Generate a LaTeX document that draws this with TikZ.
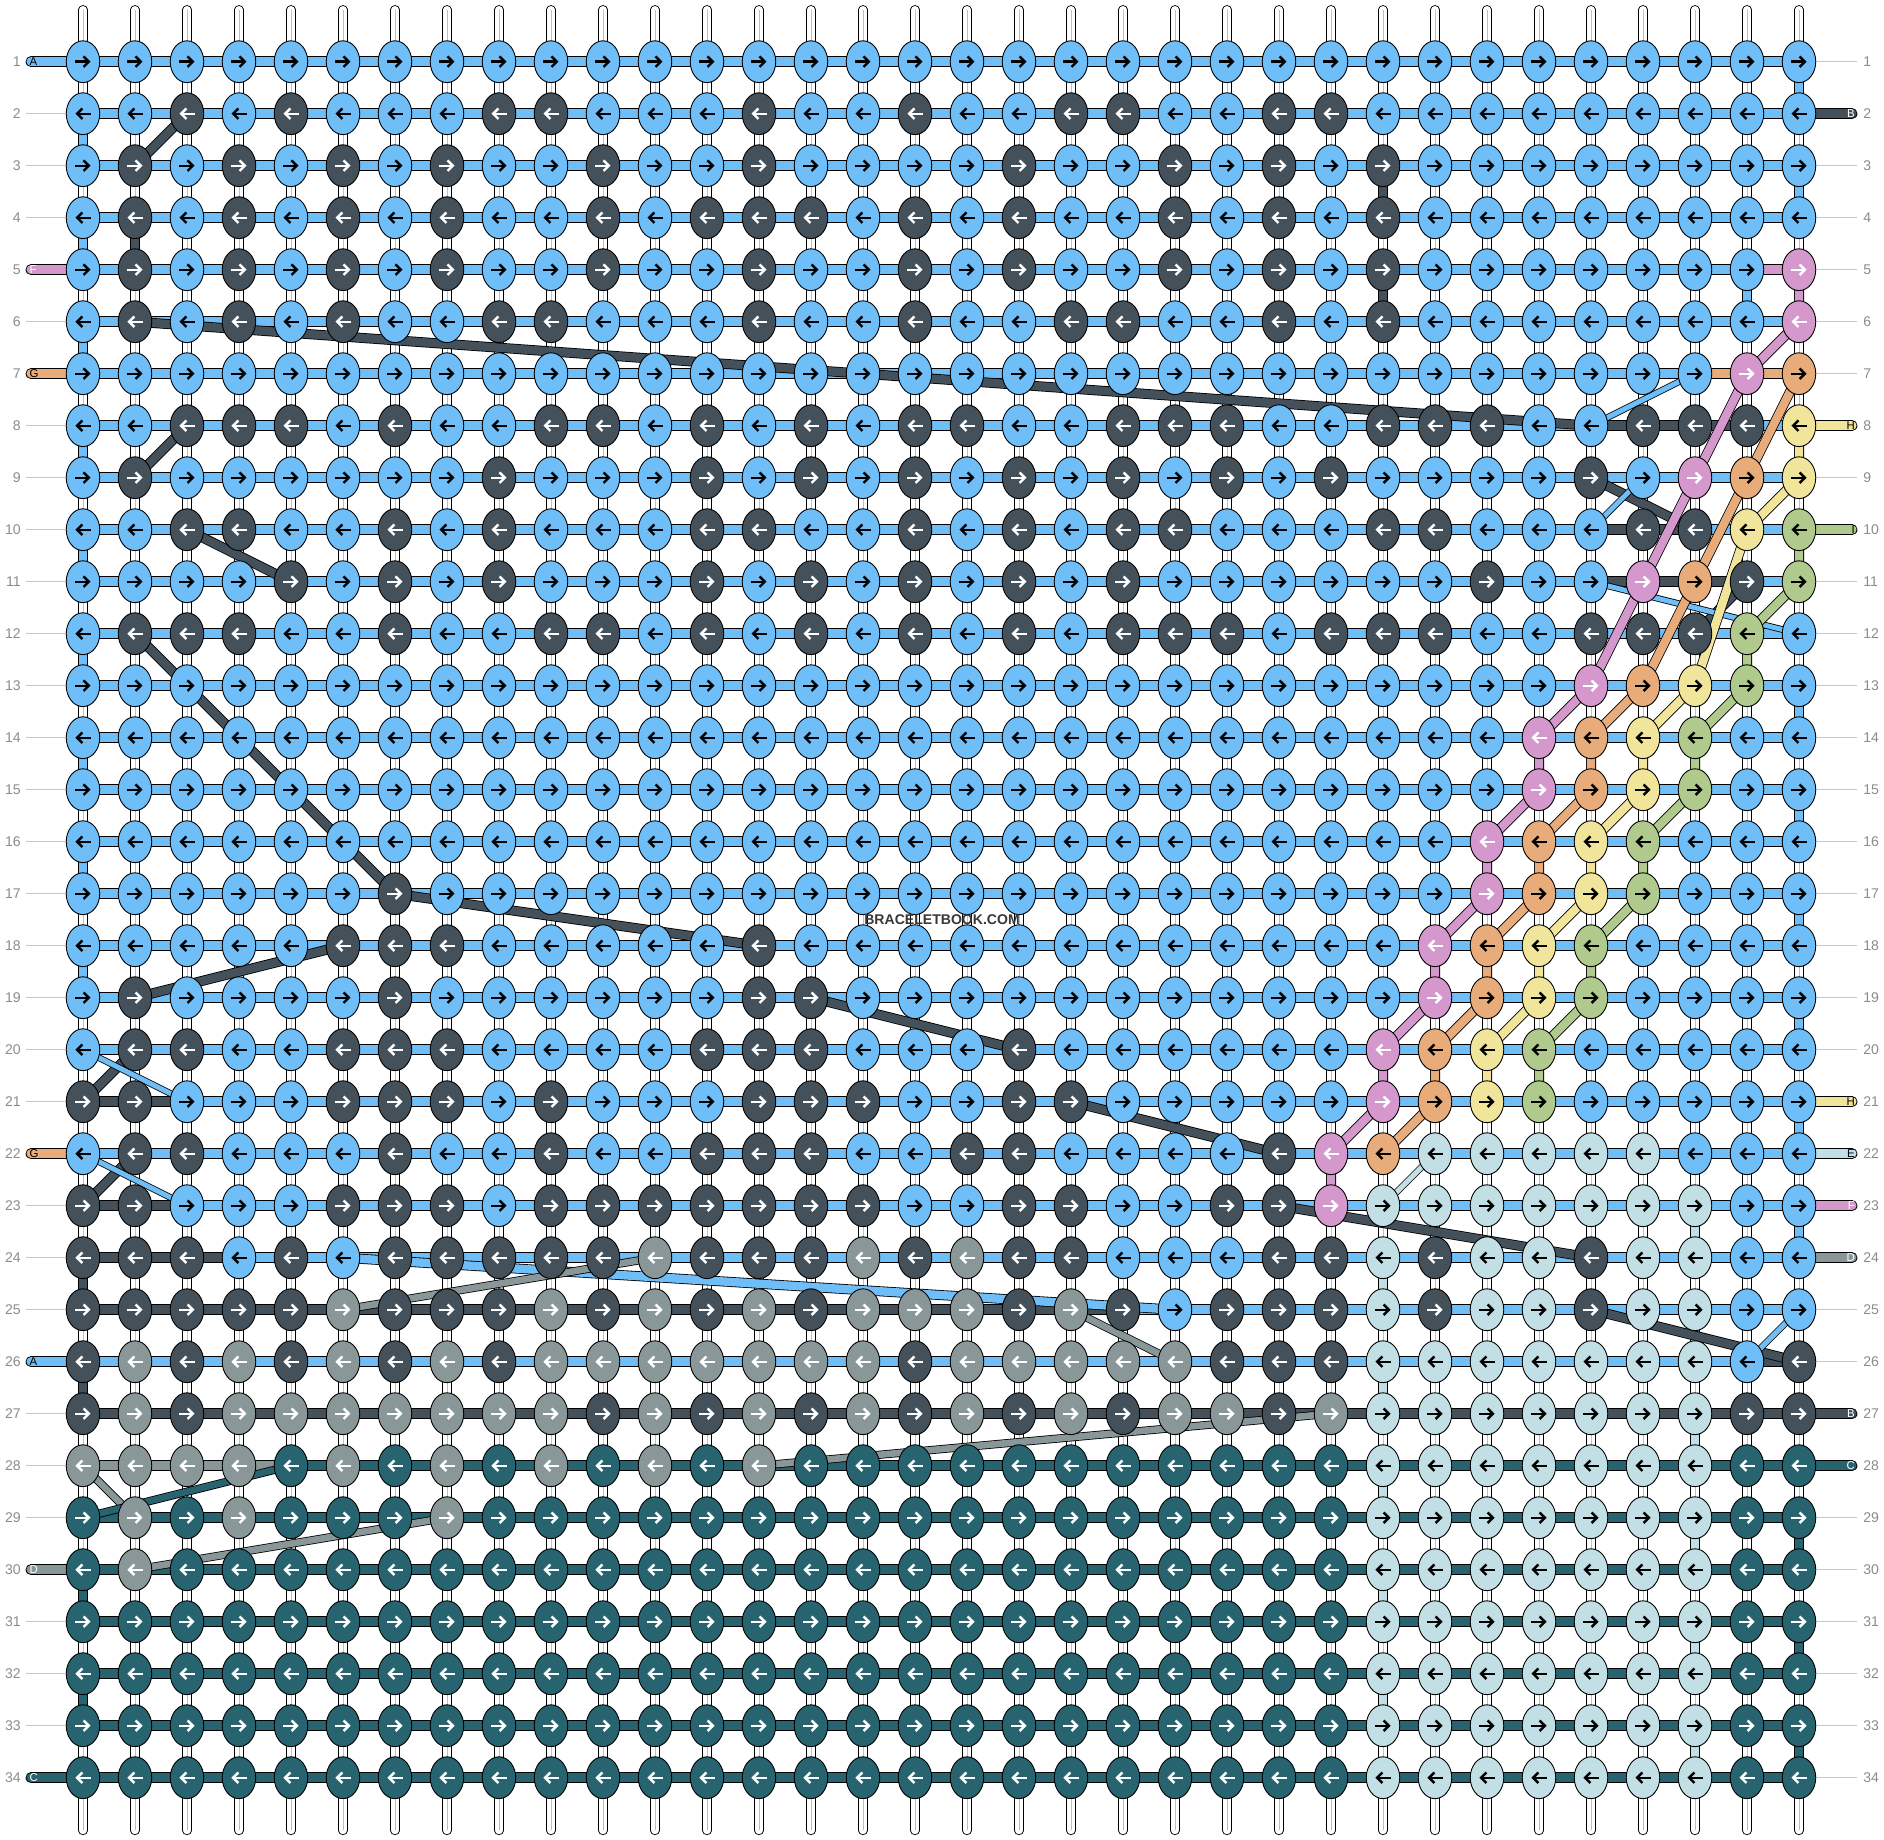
\documentclass[tikz,border=0pt]{standalone}
\usepackage{fontspec}
\setmainfont{Liberation Sans}
\usetikzlibrary{shapes.geometric,arrows.meta}
\pgfdeclarelayer{back}
\pgfdeclarelayer{mid}
\pgfsetlayers{back,mid,main}

\definecolor{colA}{HTML}{6FBEF8}
\definecolor{colB}{HTML}{44515B}
\definecolor{colC}{HTML}{28646F}
\definecolor{colD}{HTML}{8A9799}
\definecolor{colE}{HTML}{C2DFE5}
\definecolor{colF}{HTML}{D598CC}
\definecolor{colG}{HTML}{E8AC7B}
\definecolor{colH}{HTML}{F1E59B}
\definecolor{colI}{HTML}{AFCA8C}

\newdimen\pxu \pxu=0.02cm
\newcount\knotcol

\tikzset{
  knot/.style={ellipse, draw=black, line width=0.9\pxu, minimum width=33.5\pxu, minimum height=41.8\pxu, inner sep=0pt},
  knotA/.style={fill=colA}, knotB/.style={fill=colB}, knotC/.style={fill=colC},
  knotD/.style={fill=colD}, knotE/.style={fill=colE}, knotF/.style={fill=colF},
  knotG/.style={fill=colG}, knotH/.style={fill=colH}, knotI/.style={fill=colI},
  tipA/.style={black}, tipB/.style={white}, tipC/.style={white},
  tipD/.style={white}, tipE/.style={black}, tipF/.style={white},
  tipG/.style={black}, tipH/.style={black}, tipI/.style={black},
  arrR/.style={line width=2.4\pxu, -{Straight Barb[length=3pt,width=6pt]}},
  arrL/.style={line width=2.4\pxu, {Straight Barb[length=3pt,width=6pt]}-},
  band/.style={draw=black, line width=1\pxu, double=col#1, double distance=8.5\pxu},
  thr/.style n args={2}{draw=black, line width=0.8\pxu, double=col#1, double distance=#2\pxu, line join=round},
  warp/.style={draw=black, line width=0.9\pxu, double=white, double distance=7.4\pxu, line cap=round},
  warpmid/.style={draw=black!25, line width=0.6\pxu},
  guide/.style={draw=black!22, line width=1\pxu},
  pill/.style={draw=black, line width=0.9\pxu, double=col#1, double distance=9\pxu, line cap=round},
  rownum/.style={text=black!45, font=\fontsize{8}{9}\selectfont, inner sep=0pt},
  labtxt/.style={font=\fontsize{6.5}{7}\selectfont, inner sep=0pt},
  labA/.style={text=black}, labB/.style={text=white}, labC/.style={text=white},
  labD/.style={text=white}, labE/.style={text=black}, labF/.style={text=white},
  labG/.style={text=black}, labH/.style={text=black}, labI/.style={text=black},
}

\newcommand\knotput[1]{%
  \node[knot, knot#1] (k-\krow-\the\knotcol) at (\the\knotcol,\krow) {};
  \ifodd\krow\relax
    \draw[arrR, tip#1] (\the\knotcol-0.145,\krow) -- (\the\knotcol+0.145,\krow);
  \else
    \draw[arrL, tip#1] (\the\knotcol-0.145,\krow) -- (\the\knotcol+0.145,\krow);
  \fi}
\def\knotscan#1{%
  \ifx\relax#1\else
    \advance\knotcol by 1
    \knotput{#1}%
    \expandafter\knotscan
  \fi}

\begin{document}
\begin{tikzpicture}[x=1.04cm, y=-1.04cm]
\useasboundingbox (-0.596,-0.1865) rectangle (35.635,35.198);

\foreach \pat [count=\krow] in {
  AAAAA AAAAA AAAAA AAAAA AAAAA AAAAA AAAA,
  AABAB AAABB AAABA ABAAB BAABB AAAAA AAAA,
  ABABA BABAA BAABA AAABA ABABA BAAAA AAAA,
  ABABA BABAA BABBB ABABA ABABA BAAAA AAAA,
  ABABA BABAA BAABA ABABA ABABA BAAAA AAAF,
  ABABA BAABB AAABA ABAAB BAABA BAAAA AAAF,
  AAAAA AAAAA AAAAA AAAAA AAAAA AAAAA AAFG,
  AABBB ABAAB BABAB ABBAA BBBAA BBBAA BBBH,
  ABAAA AAABA AABAB ABABA BABAB AAAAB AFGH,
  AABBA ABABA AABBA ABABA BBAAA BBAAA BBHI,
  AAAAB ABABA AABAB ABABA BAAAA AABAA FGBI,
  ABBBA ABAAB BABAB ABABA BBBAB BBAAB BBIA,
  AAAAA AAAAA AAAAA AAAAA AAAAA AAAAF GHIA,
  AAAAA AAAAA AAAAA AAAAA AAAAA AAAFG HIAA,
  AAAAA AAAAA AAAAA AAAAA AAAAA AAAFG HIAA,
  AAAAA AAAAA AAAAA AAAAA AAAAA AAFGH IAAA,
  AAAAA ABAAA AAAAA AAAAA AAAAA AAFGH IAAA,
  AAAAA BBBAA AAABA AAAAA AAAAA AFGHI AAAA,
  ABAAA ABAAA AAABB AAAAA AAAAA AFGHI AAAA,
  ABBAA BBBAA AABBB AAABA AAAAA FGHIA AAAA,
  BBAAA BBBAB AAABB BAABB AAAAA FGHIA AAAA,
  ABBAA ABAAB AABBB AABBA AAABF GEEEE EAAA,
  BBAAA BBBAB BBBBB BAABB AABBF EEEEE EEAA,
  BBBAB ABBBB BDBBB DBDBB AAABB EBEEB EEAA,
  BBBBB DBBBD BDBDB DDDBD BABBB EBEEB EEAA,
  BDBDB DBDBD DDDDD DBDDD DDBBB EEEEE EEAB,
  BDBDD DDDDD BDBDB DBDBD BDDBD EEEEE EEBB,
  DDDDC DCDCD CDCDC CCCCC CCCCC EEEEE EECC,
  CDCDC CCDCC CCCCC CCCCC CCCCC EEEEE EECC,
  CDCCC CCCCC CCCCC CCCCC CCCCC EEEEE EECC,
  CCCCC CCCCC CCCCC CCCCC CCCCC EEEEE EECC,
  CCCCC CCCCC CCCCC CCCCC CCCCC EEEEE EECC,
  CCCCC CCCCC CCCCC CCCCC CCCCC EEEEE EECC,
  CCCCC CCCCC CCCCC CCCCC CCCCC EEEEE EECC}
  {\knotcol=0 \expandafter\knotscan\pat\relax}

\begin{pgfonlayer}{back}
  \fill[white] (-0.596,-0.1865) rectangle (35.635,35.198);
  \foreach \c in {1,...,34} {
    \coordinate (wt-\c) at (\c,0);
    \coordinate (wb-\c) at (\c,35.015);
    \draw[warp] (wt-\c) -- (wb-\c);
    \draw[warpmid] (wt-\c) -- (wb-\c);
  }
\end{pgfonlayer}

\begin{pgfonlayer}{mid}
  \foreach \r in {1,...,34} {
    \coordinate (gl-\r) at (-0.096,\r);
    \coordinate (gr-\r) at (35.12,\r);
    \draw[guide] (gl-\r) -- (k-\r-1.west);
    \draw[guide] (k-\r-34.east) -- (gr-\r);
  }

  \foreach \ra/\rb/\ca/\cb/\bc in {1/24/1/33/A, 25/25/1/33/B, 26/26/1/33/A, 27/27/1/33/B, 28/34/1/33/C,
      5/5/33/33/F, 7/7/32/33/G, 8/8/30/32/B, 10/10/30/31/B, 11/11/30/32/B,
      21/21/1/2/B, 23/23/1/2/B, 24/24/1/3/B, 25/25/21/33/A, 26/26/33/33/B, 28/28/1/4/D} {
    \foreach \r in {\ra,...,\rb} {
      \foreach \c in {\ca,...,\cb} {
        \pgfmathtruncatemacro\cn{\c+1}
        \draw[band=\bc] (k-\r-\c.center) -- (k-\r-\cn.center);
      }
    }
  }

  \foreach \c/\r/\bc in {1/2/A, 1/4/A, 1/6/A, 1/8/A, 1/10/A, 1/12/A, 1/14/A, 1/16/A, 1/18/A,
      1/24/B, 1/26/B, 1/30/C, 1/32/C,
      34/1/A, 34/3/A, 34/5/F, 34/13/A, 34/15/A, 34/17/A, 34/19/A, 34/21/A, 34/23/A,
      34/29/C, 34/31/C, 34/33/C,
      2/4/B, 26/3/B, 26/5/B, 33/5/A,
      32/23/E, 32/25/E, 32/27/E, 32/29/E, 32/31/E, 32/33/E,
      26/24/E, 26/26/E, 26/28/E, 26/30/E, 26/32/E} {
    \pgfmathtruncatemacro\rn{\r+1}
    \draw[band=\bc] (k-\r-\c.center) -- (k-\rn-\c.center);
  }

  \foreach \ca/\ra/\cb/\rb/\tc/\tw in {3/2/2/3/B/8.4, 2/6/30/8/B/8.4, 3/8/2/9/B/8.4,
      3/10/5/11/B/8.4, 2/12/7/17/B/8.4, 7/17/14/18/B/8.4, 6/18/2/19/B/8.4,
      15/19/19/20/B/8.4, 20/21/24/22/B/8.4, 24/23/30/24/B/8.4, 30/25/34/26/B/8.4,
      2/20/1/21/B/8.4, 2/22/1/23/B/8.4, 30/9/32/10/B/8.4, 33/11/32/12/B/8.4,
      30/8/32/7/A/5, 30/10/31/9/A/5, 30/11/34/12/A/5, 1/20/3/21/A/5,
      1/22/3/23/A/5, 6/24/22/25/A/8.4, 33/26/34/25/A/5,
      6/25/12/24/D/6.6, 20/25/22/26/D/6.6, 14/28/25/27/D/6.6, 2/30/8/29/D/6.6,
      1/28/2/29/D/6.6, 1/29/5/28/C/6.6, 27/22/26/23/E/5} {
    \draw[thr={\tc}{\tw}] (k-\ra-\ca.center) -- (k-\rb-\cb.center);
  }

  \draw[thr={F}{8.4}] (k-5-34.center) -- (k-6-34.center) -- (k-7-33.center) -- (k-9-32.center)
    -- (k-11-31.center) -- (k-13-30.center) -- (k-14-29.center) -- (k-15-29.center)
    -- (k-16-28.center) -- (k-17-28.center) -- (k-18-27.center) -- (k-19-27.center)
    -- (k-20-26.center) -- (k-21-26.center) -- (k-22-25.center) -- (k-23-25.center);
  \draw[thr={G}{8.4}] (k-7-34.center) -- (k-9-33.center) -- (k-11-32.center) -- (k-13-31.center)
    -- (k-14-30.center) -- (k-15-30.center) -- (k-16-29.center) -- (k-17-29.center)
    -- (k-18-28.center) -- (k-19-28.center) -- (k-20-27.center) -- (k-21-27.center)
    -- (k-22-26.center);
  \draw[thr={H}{8.4}] (k-8-34.center) -- (k-9-34.center) -- (k-10-33.center) -- (k-13-32.center)
    -- (k-14-31.center) -- (k-15-31.center) -- (k-16-30.center) -- (k-17-30.center)
    -- (k-18-29.center) -- (k-19-29.center) -- (k-20-28.center) -- (k-21-28.center);
  \draw[thr={I}{8.4}] (k-10-34.center) -- (k-11-34.center) -- (k-12-33.center) -- (k-13-33.center)
    -- (k-14-32.center) -- (k-15-32.center) -- (k-16-31.center) -- (k-17-31.center)
    -- (k-18-30.center) -- (k-19-30.center) -- (k-20-29.center) -- (k-21-29.center);

  \foreach \r/\lc in {1/A, 5/F, 7/G, 22/G, 26/A, 30/D, 34/C} {
    \coordinate (pl-\r) at (0,\r);
    \draw[pill=\lc] (pl-\r) -- (k-\r-1.center);
  }
  \foreach \r/\lc in {2/B, 8/H, 10/I, 21/H, 22/E, 23/F, 24/D, 27/B, 28/C} {
    \coordinate (pr-\r) at (35.02,\r);
    \draw[pill=\lc] (k-\r-34.center) -- (pr-\r);
  }
\end{pgfonlayer}

\foreach \r/\lc in {1/A, 5/F, 7/G, 22/G, 26/A, 30/D, 34/C}
  \node[labtxt, lab\lc, anchor=west] (tl-\r) at (-0.035,\r) {\lc};
\foreach \r/\lc in {2/B, 8/H, 10/I, 21/H, 22/E, 23/F, 24/D, 27/B, 28/C}
  \node[labtxt, lab\lc, anchor=east] (tr-\r) at (35.08,\r) {\lc};

\foreach \r in {1,...,34} {
  \node[rownum, anchor=east] (ln-\r) at (-0.19,\r) {\r};
  \node[rownum, anchor=west] (rn-\r) at (35.23,\r) {\r};
}

\node[font=\fontsize{8}{9}\selectfont\bfseries, text=black!78] (wm) at (17.52,17.49) {BRACELETBOOK.COM};

\end{tikzpicture}
\end{document}
